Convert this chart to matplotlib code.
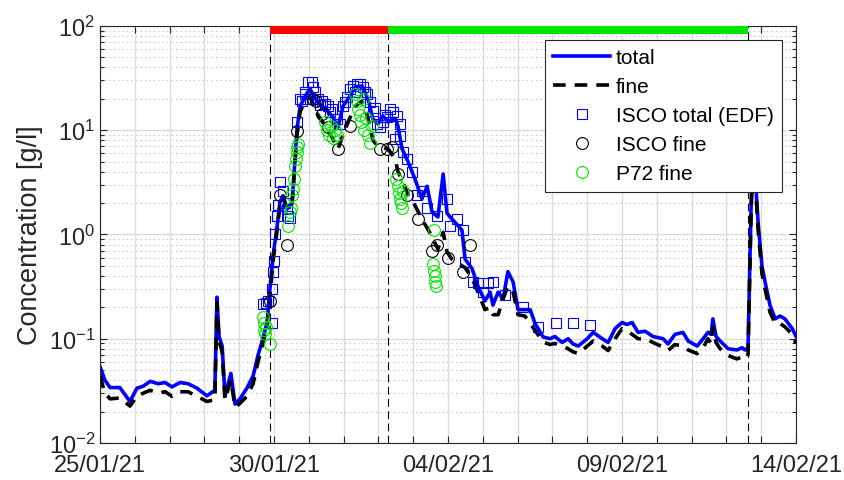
import matplotlib
matplotlib.use("Agg")
import matplotlib.pyplot as plt
import matplotlib.dates as mdates
from matplotlib.ticker import LogLocator, NullFormatter
import numpy as np
import pandas as pd

plt.rcParams['font.family'] = ['Liberation Sans', 'DejaVu Sans']
plt.rcParams['mathtext.fontset'] = 'custom'
plt.rcParams['mathtext.rm'] = 'Liberation Sans'

t0 = pd.Timestamp("2021-01-25")

# time in days since 25/01/21 00:00
t_line = [0.00, 0.14, 0.29, 0.57, 0.86, 1.06, 1.24, 1.44, 1.67, 1.87, 2.07, 2.30, 2.53, 2.79,
          3.07, 3.30, 3.36, 3.42, 3.51, 3.59, 3.76, 3.88, 4.02, 4.22, 4.40, 4.54, 4.68, 4.80,
          4.89, 4.97, 5.09, 5.17, 5.26, 5.37, 5.52, 5.66, 5.75, 5.89, 6.03, 6.12, 6.26, 6.47,
          6.67, 6.84, 6.98, 7.13, 7.33, 7.53, 7.70, 7.84, 7.99, 8.13, 8.28, 8.48, 8.56, 8.68,
          8.85, 9.05, 9.25, 9.40, 9.54, 9.71, 9.86, 9.97, 10.11, 10.40, 10.49, 10.69, 10.86,
          11.06, 11.21, 11.29, 11.44, 11.58, 11.72, 11.87, 12.01, 12.21, 12.36, 12.50, 12.73,
          12.93, 13.07, 13.28, 13.45, 13.59, 13.74, 14.00, 14.17, 14.43, 14.60, 14.80, 15.00,
          15.14, 15.29, 15.46, 15.66, 15.89, 16.18, 16.32, 16.52, 16.75, 16.90, 17.16, 17.33,
          17.47, 17.56, 17.61, 17.70, 17.82, 18.05, 18.30, 18.45, 18.53, 18.62, 18.71, 18.76,
          18.82, 18.91, 19.02, 19.11, 19.25, 19.40, 19.54, 19.68, 19.89, 20.00]

total = [0.054, 0.040, 0.034, 0.034, 0.025, 0.0335, 0.035, 0.039, 0.037, 0.038, 0.0345, 0.038,
         0.037, 0.0335, 0.0283, 0.032, 0.25, 0.105, 0.085, 0.028, 0.0465, 0.0236, 0.0265,
         0.0335, 0.044, 0.0695, 0.10, 0.143,
         0.32, 0.62, 1.2, 2.05, 2.35, 1.75, 2.0, 10.3, 17, 21, 25, 22, 18.6, 16,
         13.7, 10.7, 17, 20, 26, 26.6, 20, 12.8, 11.5, 13.7, 12, 13, 11, 6.6,
         5.0, 3.4, 2.2, 2.9, 1.64, 1.47, 3.8, 1.6, 1.41, 1.1, 0.58, 0.47, 0.32,
         0.23, 0.28, 0.21, 0.28, 0.24, 0.44, 0.35, 0.19, 0.19, 0.19, 0.14, 0.104,
         0.10, 0.105, 0.092, 0.10, 0.089, 0.085, 0.10, 0.115, 0.10, 0.092, 0.125, 0.143,
         0.137, 0.143, 0.115, 0.118, 0.105, 0.10, 0.089, 0.11, 0.115, 0.095, 0.085, 0.10,
         0.115, 0.11, 0.155, 0.105, 0.095, 0.08, 0.078, 0.082, 0.078, 0.082, 2.0, 6.0,
         4.0, 1.3, 0.5, 0.35, 0.21, 0.155, 0.165, 0.155, 0.125, 0.105]

fine = [0.044, 0.030, 0.0265, 0.027, 0.0226, 0.028, 0.030, 0.032, 0.030, 0.031, 0.028, 0.031,
        0.031, 0.028, 0.025, 0.026, 0.22, 0.095, 0.075, 0.026, 0.040, 0.022, 0.024,
        0.028, 0.037, 0.06, 0.09, 0.13,
        0.28, 0.55, 1.1, 1.9, 2.3, 1.7, 2.0, 9.0, 15, 19, 21, 18, 14, 11,
        8.5, 6.6, 9, 12, 17, 19, 13, 8, 7, 6.8, 6.6, 5.3, 4.0, 3.3,
        2.4, 1.9, 1.4, 1.15, 0.95, 0.72, 1.05, 0.68, 0.58, 0.5, 0.48, 0.38, 0.28,
        0.19, 0.2, 0.17, 0.17, 0.24, 0.32, 0.28, 0.17, 0.165, 0.14, 0.12, 0.093,
        0.088, 0.09, 0.085, 0.08, 0.075, 0.072, 0.085, 0.095, 0.085, 0.077, 0.10, 0.125,
        0.118, 0.11, 0.10, 0.10, 0.092, 0.083, 0.077, 0.088, 0.085, 0.078, 0.072, 0.082,
        0.10, 0.09, 0.13, 0.092, 0.08, 0.069, 0.064, 0.067, 0.064, 0.07, 1.7, 5.2,
        3.5, 1.1, 0.42, 0.30, 0.18, 0.14, 0.14, 0.13, 0.11, 0.09]

# ISCO total (EDF)
t_isco_tot = [4.68, 4.77, 4.83, 4.94, 4.94, 4.97, 5.00, 5.03, 5.09, 5.11, 5.17, 5.26, 5.32,
              5.37, 5.40, 5.46, 5.66, 5.75, 5.80, 5.89, 5.89, 5.98, 6.03, 6.09, 6.12, 6.18,
              6.26, 6.32, 6.38, 6.47, 6.55, 6.61, 6.67, 6.81, 6.90, 6.98, 7.04, 7.10, 7.18,
              7.27, 7.33, 7.39, 7.47, 7.56, 7.61, 7.67, 7.76, 7.84, 7.90, 7.96, 8.05, 8.13,
              8.19, 8.25, 8.33, 8.42, 8.53, 8.62, 8.48, 8.62, 8.71, 8.82, 8.97, 9.11, 9.25,
              9.40, 9.68, 9.97, 10.06, 10.26, 10.43, 10.49, 10.72, 10.86, 11.01, 11.15,
              11.29, 11.64, 12.16, 12.59, 13.10, 13.59, 14.08]
c_isco_tot = [0.215, 0.22, 0.23, 0.14, 0.30, 0.44, 0.56, 1.0, 1.5, 1.9, 3.2, 2.6, 2.0,
              1.75, 1.5, 1.45, 12, 20, 19, 23, 22, 29, 20, 29, 26, 23,
              20, 17.5, 19, 18, 17, 15, 16, 12.8, 11.5, 17, 18.6, 21, 25,
              26.5, 23.5, 27.8, 27.8, 26, 23, 22, 18.6, 15.3, 16.5, 11.5, 10.7, 12,
              14, 13.4, 16, 15, 13.7, 11.5, 8.2, 8.8, 6.2, 5.3, 4.0, 2.4, 2.6,
              1.8, 1.5, 2.2, 1.2, 1.4, 1.1, 0.54, 0.35, 0.34, 0.28, 0.34,
              0.35, 0.26, 0.20, 0.13, 0.14, 0.14, 0.135]

# ISCO fine
t_isco_fine = [4.89, 5.17, 5.37, 5.66, 6.12, 6.21, 6.38, 6.55, 6.84, 7.18, 8.05, 8.25, 8.39,
               8.56, 8.82, 9.14, 9.54, 9.68, 10.00, 10.43, 10.63]
c_isco_fine = [0.23, 2.4, 0.8, 9.8, 20, 19, 14.3, 10.7, 6.6, 11, 6.6, 6.6, 6.9,
               3.8, 2.4, 1.4, 0.7, 0.8, 0.6, 0.44, 0.8]

# P72 fine
t_p72 = [4.68, 4.71, 4.71, 4.74, 4.77, 4.89, 5.40, 5.46, 5.49, 5.52, 5.55, 5.57, 5.60, 5.63,
         5.66, 5.66, 5.69, 6.47, 6.52, 6.58, 6.64, 6.70, 6.75, 6.81, 7.33, 7.39, 7.41, 7.47,
         7.50, 7.56, 7.59, 7.64, 7.70, 7.76, 7.82, 8.51, 8.56, 8.59, 8.62, 8.65, 8.68, 8.71,
         9.60, 9.57, 9.60, 9.63, 9.63, 9.66]
c_p72 = [0.16, 0.14, 0.12, 0.11, 0.13, 0.088, 1.2, 1.65, 1.8, 2.4, 2.7, 3.4, 4.5, 5.3,
         6.2, 6.9, 7.4, 12, 10, 9, 11, 8.5, 10, 9, 22, 19, 16, 14,
         12, 20, 10, 13, 9, 7.5, 11, 3.4, 2.9, 2.5, 2.2, 2.0, 1.8, 2.6,
         1.1, 0.52, 0.45, 0.40, 0.35, 0.32]

# phase limits (days since 25/01/21)
t_phase = [4.89, 8.28, 18.62]
phase_colors = ['#ff0000', '#00e600']


def to_dates(days):
    return t0 + pd.to_timedelta(np.array(days), unit='D')


fig = plt.figure(figsize=(8.44, 4.81), dpi=100)
ax = fig.add_axes([0.1185, 0.077, 0.8247, 0.867])

ax.plot(to_dates(t_line), total, color='#0000ff', lw=2.6, label='total')
ax.plot(to_dates(t_line), fine, color='black', lw=2.6, ls=(0, (3.5, 2.5)), label='fine')
ax.plot(to_dates(t_isco_tot), c_isco_tot, ls='none', marker='s', ms=7.5, mfc='none',
        mec='#0000ff', mew=0.8, label='ISCO total (EDF)')
ax.plot(to_dates(t_isco_fine), c_isco_fine, ls='none', marker='o', ms=8.5, mfc='none',
        mec='black', mew=0.8, label='ISCO fine')
ax.plot(to_dates(t_p72), c_p72, ls='none', marker='o', ms=8.5, mfc='none',
        mec='#00e600', mew=0.8, label='P72 fine')

for tp in t_phase:
    ax.axvline(to_dates([tp])[0], color='black', lw=0.8, ls=(0, (7, 4)), zorder=1)

for i in range(2):
    ax.fill_between(to_dates(t_phase[i:i + 2]), 83.5, 100, color=phase_colors[i],
                    lw=0, zorder=3)

ax.set_yscale('log')
ax.set_ylim(1e-2, 1e2)
ax.set_xlim(to_dates([0])[0], to_dates([20])[0])

ax.yaxis.set_major_locator(LogLocator(base=10, numticks=10))
ax.yaxis.set_minor_locator(LogLocator(base=10, subs=np.arange(2, 10), numticks=20))
ax.yaxis.set_minor_formatter(NullFormatter())

days = pd.date_range("2021-01-25", "2021-02-14", freq='D')
ax.set_xticks(days)
ax.set_xticklabels([d.strftime('%d/%m/%y') if i % 5 == 0 else '' for i, d in enumerate(days)])

ax.grid(True, which='major', color='#dcdcdc', lw=1.0, ls='-')
ax.grid(True, which='minor', axis='y', color='#b8b8b8', lw=0.8, ls=(0, (1, 3)))
ax.set_axisbelow(True)

ax.tick_params(which='both', direction='in', top=True, right=True, colors='#262626',
               labelsize=17, width=0.8)
ax.tick_params(which='major', length=5)
ax.tick_params(which='minor', length=3)
ax.tick_params(axis='x', pad=8)
for s in ax.spines.values():
    s.set_color('#262626')
    s.set_linewidth(0.8)

ax.set_ylabel('Concentration [g/l]', fontsize=19.5, color='#262626')

leg = ax.legend(loc='upper right', bbox_to_anchor=(0.98, 0.966), borderaxespad=0,
                fontsize=15, frameon=True, fancybox=False, framealpha=1,
                edgecolor='#262626', handlelength=2.7, handletextpad=0.3,
                labelspacing=0.48, borderpad=0.4)
leg.get_frame().set_linewidth(0.8)

fig.savefig('out.png', dpi=100)
